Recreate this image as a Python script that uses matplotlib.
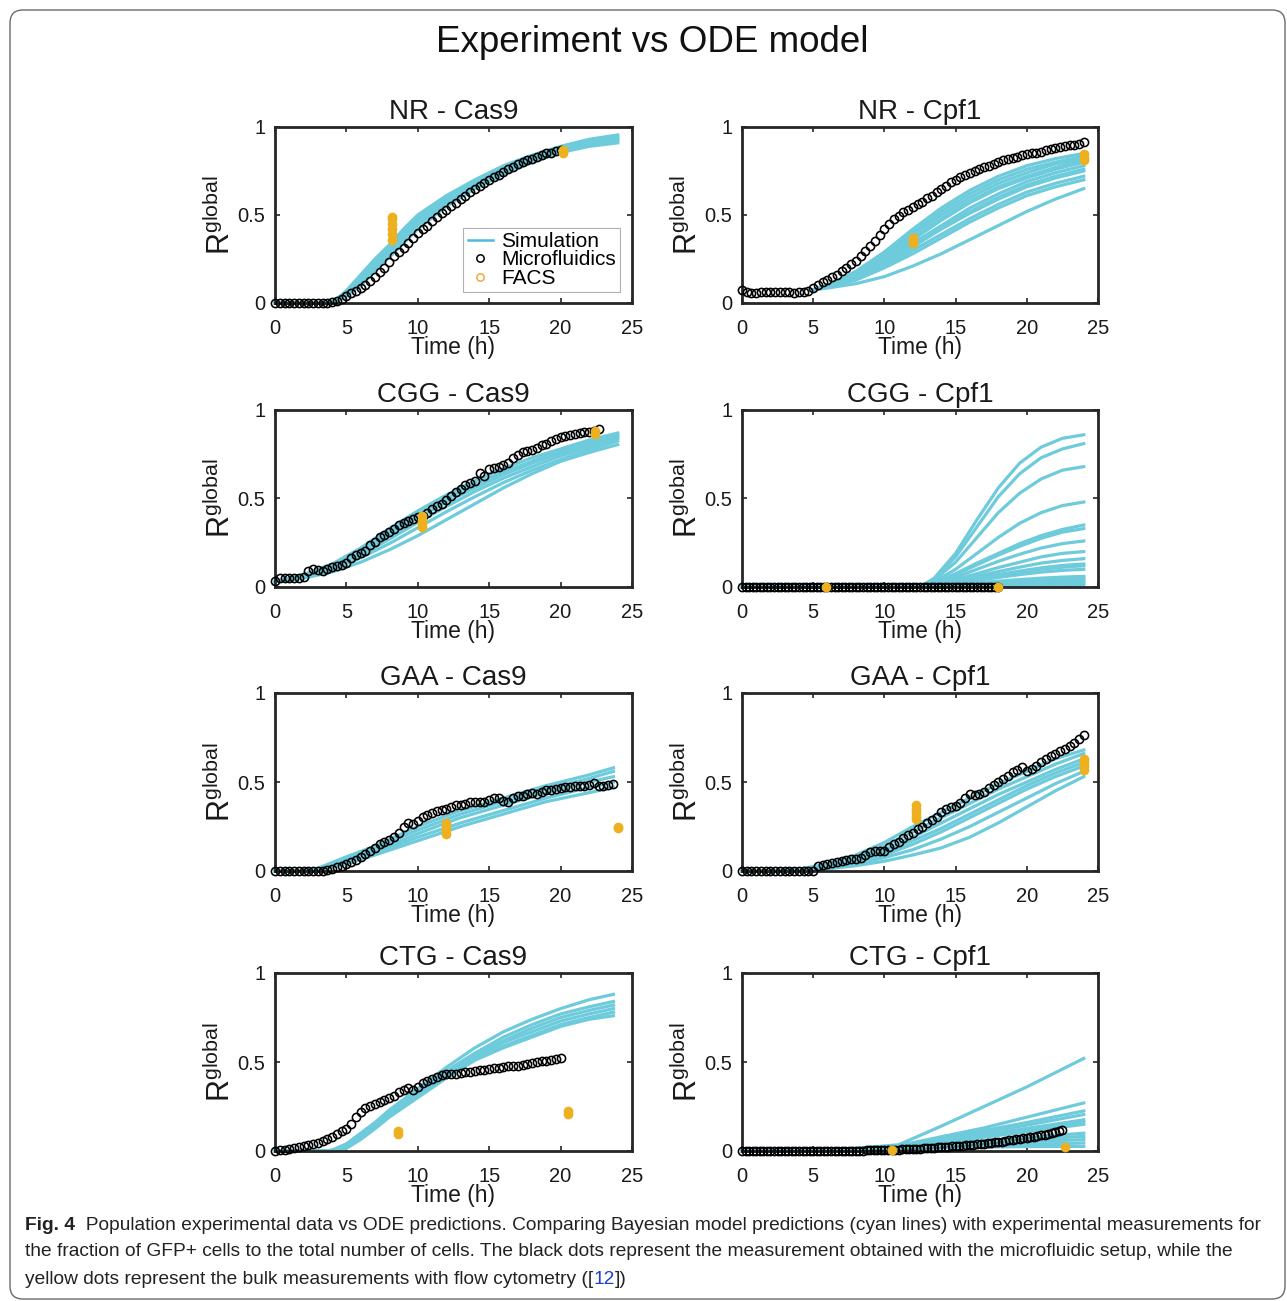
import numpy as np
import matplotlib
matplotlib.use("Agg")
import matplotlib.pyplot as plt
from matplotlib.lines import Line2D
from matplotlib.patches import FancyBboxPatch

plt.rcParams['font.family'] = ['Liberation Sans', 'DejaVu Sans']
plt.rcParams['mathtext.fontset'] = 'custom'
plt.rcParams['mathtext.rm'] = 'Liberation Sans'
plt.rcParams['mathtext.it'] = 'Liberation Sans'

CYAN = '#6ecbdc'
YELLOW = '#edb120'
AXCOL = '#262626'

# ---- NR - Cas9 ----
NR_CAS9_MF_DT = 1 / 3
NR_CAS9_MF = [0, 0, 0, 0, 0, 0, 0, 0, 0, 0, 0, 0.002, 0.005, 0.012, 0.025, 0.04, 0.055, 0.07,
              0.085, 0.10, 0.125, 0.15, 0.175, 0.20, 0.235, 0.265, 0.29, 0.315, 0.34, 0.37,
              0.395, 0.42, 0.44, 0.465, 0.49, 0.51, 0.53, 0.55, 0.57, 0.59, 0.61, 0.63, 0.65,
              0.665, 0.68, 0.70, 0.715, 0.73, 0.745, 0.76, 0.775, 0.79, 0.80, 0.81, 0.82,
              0.83, 0.84, 0.85, 0.855, 0.862, 0.87]
NR_CAS9_SIM_T = [0, 3.6, 4.2, 5, 6, 7, 8, 9, 10, 12, 14, 16, 18, 20, 22, 24]
NR_CAS9_SIM = [
    [0, 0, 0.015, 0.07, 0.16, 0.25, 0.33, 0.42, 0.50, 0.61, 0.70, 0.78, 0.84, 0.89, 0.93, 0.955],
    [0, 0, 0.012, 0.065, 0.15, 0.24, 0.32, 0.41, 0.49, 0.60, 0.69, 0.77, 0.83, 0.88, 0.92, 0.945],
    [0, 0, 0.01, 0.06, 0.14, 0.225, 0.31, 0.395, 0.475, 0.585, 0.68, 0.76, 0.82, 0.875, 0.91, 0.935],
    [0, 0, 0.008, 0.055, 0.13, 0.21, 0.295, 0.38, 0.46, 0.575, 0.67, 0.75, 0.815, 0.87, 0.905, 0.93],
    [0, 0, 0.005, 0.05, 0.12, 0.20, 0.28, 0.365, 0.445, 0.56, 0.66, 0.74, 0.81, 0.86, 0.90, 0.92],
    [0, 0, 0.002, 0.04, 0.10, 0.18, 0.26, 0.34, 0.42, 0.55, 0.65, 0.73, 0.80, 0.855, 0.89, 0.91],
]
NR_CAS9_FACS_T = [8.2, 20.2]
NR_CAS9_FACS = [[0.36, 0.39, 0.42, 0.45, 0.48, 0.49], [0.855, 0.865, 0.87]]

# ---- NR - Cpf1 ----
NR_CPF1_MF_DT = 1 / 3
NR_CPF1_MF = [0.075, 0.06, 0.055, 0.055, 0.06, 0.06, 0.065, 0.06, 0.065, 0.06, 0.065, 0.055,
              0.06, 0.065, 0.07, 0.085, 0.10, 0.12, 0.13, 0.145, 0.16, 0.18, 0.20, 0.22, 0.24,
              0.265, 0.295, 0.325, 0.355, 0.385, 0.42, 0.45, 0.475, 0.495, 0.515, 0.53, 0.545,
              0.56, 0.575, 0.595, 0.61, 0.63, 0.65, 0.665, 0.685, 0.70, 0.715, 0.73, 0.74, 0.75,
              0.76, 0.77, 0.78, 0.79, 0.80, 0.81, 0.82, 0.825, 0.83, 0.84, 0.845, 0.85, 0.855,
              0.86, 0.87, 0.875, 0.88, 0.885, 0.89, 0.895, 0.90, 0.905, 0.915]
NR_CPF1_SIM_T = [5, 6, 8, 10, 12, 14, 16, 18, 20, 22, 24]
NR_CPF1_SIM = [
    [0.075, 0.10, 0.18, 0.29, 0.42, 0.54, 0.64, 0.72, 0.78, 0.82, 0.85],
    [0.075, 0.10, 0.17, 0.28, 0.40, 0.52, 0.62, 0.70, 0.76, 0.80, 0.835],
    [0.075, 0.10, 0.17, 0.27, 0.39, 0.50, 0.60, 0.68, 0.74, 0.79, 0.82],
    [0.075, 0.095, 0.16, 0.26, 0.37, 0.48, 0.58, 0.66, 0.72, 0.77, 0.81],
    [0.075, 0.095, 0.16, 0.25, 0.36, 0.47, 0.57, 0.65, 0.71, 0.76, 0.80],
    [0.075, 0.095, 0.15, 0.24, 0.34, 0.44, 0.54, 0.62, 0.69, 0.74, 0.78],
    [0.075, 0.09, 0.145, 0.23, 0.33, 0.43, 0.52, 0.60, 0.67, 0.72, 0.76],
    [0.075, 0.09, 0.145, 0.22, 0.32, 0.42, 0.51, 0.59, 0.66, 0.71, 0.75],
    [0.075, 0.09, 0.14, 0.21, 0.30, 0.39, 0.48, 0.56, 0.63, 0.68, 0.72],
    [0.075, 0.09, 0.13, 0.20, 0.28, 0.37, 0.46, 0.54, 0.61, 0.66, 0.70],
    [0.075, 0.085, 0.11, 0.15, 0.21, 0.28, 0.36, 0.44, 0.52, 0.59, 0.65],
]
NR_CPF1_FACS_T = [12.0, 24.0]
NR_CPF1_FACS = [[0.34, 0.355, 0.37], [0.81, 0.825, 0.845]]

# ---- CGG - Cas9 ----
CGG_CAS9_MF_DT = 1 / 3
CGG_CAS9_MF = [0.035, 0.05, 0.05, 0.05, 0.05, 0.05, 0.055, 0.09, 0.10, 0.095, 0.09, 0.10,
               0.115, 0.12, 0.125, 0.135, 0.165, 0.18, 0.19, 0.205, 0.235, 0.255, 0.28, 0.295,
               0.31, 0.33, 0.35, 0.36, 0.375, 0.385, 0.395, 0.40, 0.42, 0.44, 0.455, 0.47, 0.49,
               0.515, 0.535, 0.555, 0.575, 0.59, 0.60, 0.645, 0.625, 0.665, 0.675, 0.68, 0.69,
               0.70, 0.73, 0.745, 0.76, 0.77, 0.775, 0.785, 0.80, 0.81, 0.825, 0.835, 0.845,
               0.855, 0.86, 0.865, 0.87, 0.875, 0.875, 0.88, 0.89]
CGG_CAS9_SIM_T = [0, 2, 4, 6, 8, 10, 12, 14, 16, 18, 20, 22, 24]
CGG_CAS9_SIM = [
    [0.03, 0.07, 0.13, 0.22, 0.33, 0.43, 0.52, 0.60, 0.67, 0.73, 0.78, 0.83, 0.87],
    [0.03, 0.065, 0.125, 0.21, 0.31, 0.41, 0.50, 0.58, 0.65, 0.71, 0.77, 0.815, 0.86],
    [0.03, 0.06, 0.115, 0.195, 0.29, 0.39, 0.48, 0.56, 0.635, 0.70, 0.755, 0.80, 0.85],
    [0.03, 0.06, 0.11, 0.18, 0.27, 0.365, 0.455, 0.54, 0.615, 0.68, 0.74, 0.79, 0.84],
    [0.03, 0.055, 0.10, 0.165, 0.245, 0.335, 0.425, 0.51, 0.59, 0.66, 0.72, 0.775, 0.825],
    [0.03, 0.05, 0.085, 0.14, 0.21, 0.29, 0.38, 0.47, 0.56, 0.64, 0.71, 0.76, 0.805],
]
CGG_CAS9_FACS_T = [10.3, 22.4]
CGG_CAS9_FACS = [[0.34, 0.36, 0.38, 0.40], [0.865, 0.88]]

# ---- CGG - Cpf1 ----
CGG_CPF1_MF_DT = 0.25
CGG_CPF1_MF = [0, 0, 0, 0, 0, 0, 0, 0, 0, 0, 0, 0, 0, 0, 0, 0, 0, 0, 0, 0, 0, 0, 0, 0,
               0, 0, 0, 0, 0, 0, 0, 0, 0, 0, 0, 0, 0, 0, 0, 0, 0, 0, 0, 0, 0, 0, 0, 0,
               0, 0, 0, 0, 0, 0, 0, 0, 0, 0, 0, 0, 0, 0, 0, 0, 0, 0, 0, 0, 0, 0, 0, 0, 0]
CGG_CPF1_SIM_T = [0, 12.5, 13.5, 15, 16.5, 18, 19.5, 21, 22.5, 24]
CGG_CPF1_SIM = [
    [0, 0, 0.05, 0.19, 0.38, 0.56, 0.70, 0.79, 0.84, 0.86],
    [0, 0, 0.045, 0.17, 0.34, 0.51, 0.64, 0.73, 0.78, 0.81],
    [0, 0, 0.04, 0.14, 0.28, 0.42, 0.53, 0.61, 0.66, 0.68],
    [0, 0, 0.03, 0.10, 0.19, 0.28, 0.36, 0.42, 0.46, 0.48],
    [0, 0, 0.025, 0.075, 0.135, 0.19, 0.245, 0.29, 0.325, 0.35],
    [0, 0, 0.022, 0.07, 0.125, 0.18, 0.23, 0.275, 0.31, 0.33],
    [0, 0, 0.018, 0.055, 0.10, 0.145, 0.185, 0.22, 0.245, 0.26],
    [0, 0, 0.014, 0.042, 0.075, 0.11, 0.14, 0.17, 0.19, 0.20],
    [0, 0, 0.011, 0.033, 0.06, 0.087, 0.112, 0.135, 0.15, 0.16],
    [0, 0, 0.009, 0.027, 0.049, 0.07, 0.09, 0.108, 0.122, 0.13],
    [0, 0, 0.008, 0.025, 0.045, 0.065, 0.083, 0.10, 0.112, 0.12],
    [0, 0, 0.007, 0.021, 0.037, 0.054, 0.07, 0.084, 0.094, 0.10],
    [0, 0, 0.004, 0.013, 0.023, 0.033, 0.042, 0.05, 0.056, 0.06],
    [0, 0, 0.0035, 0.011, 0.019, 0.027, 0.035, 0.042, 0.047, 0.05],
    [0, 0, 0.003, 0.009, 0.015, 0.022, 0.028, 0.034, 0.038, 0.04],
    [0, 0, 0.002, 0.007, 0.011, 0.016, 0.021, 0.025, 0.028, 0.03],
    [0, 0, 0.0015, 0.004, 0.008, 0.011, 0.014, 0.017, 0.019, 0.02],
    [0, 0, 0.001, 0.002, 0.004, 0.005, 0.007, 0.008, 0.009, 0.01],
]
CGG_CPF1_FACS_T = [5.9, 17.95]
CGG_CPF1_FACS = [[0.0], [0.0]]

# ---- GAA - Cas9 ----
GAA_CAS9_MF_DT = 1 / 3
GAA_CAS9_MF = [0, 0, 0, 0, 0, 0, 0, 0, 0, 0, 0, 0.005, 0.01, 0.02, 0.03, 0.04, 0.05, 0.06,
               0.08, 0.095, 0.11, 0.13, 0.15, 0.165, 0.175, 0.19, 0.215, 0.245, 0.27, 0.265,
               0.28, 0.305, 0.315, 0.325, 0.335, 0.345, 0.35, 0.36, 0.37, 0.37, 0.375, 0.385,
               0.39, 0.39, 0.385, 0.40, 0.41, 0.41, 0.395, 0.39, 0.41, 0.42, 0.42, 0.43, 0.44,
               0.435, 0.445, 0.455, 0.455, 0.46, 0.465, 0.47, 0.47, 0.475, 0.48, 0.48, 0.485,
               0.495, 0.48, 0.48, 0.485, 0.49]
GAA_CAS9_SIM_T = [0, 1.5, 3, 5, 7, 10, 13, 16, 19, 22, 23.7]
GAA_CAS9_SIM = [
    [0, 0, 0.015, 0.08, 0.14, 0.25, 0.34, 0.41, 0.48, 0.54, 0.58],
    [0, 0, 0.012, 0.07, 0.13, 0.23, 0.32, 0.39, 0.46, 0.52, 0.56],
    [0, 0, 0.01, 0.06, 0.11, 0.21, 0.30, 0.37, 0.44, 0.50, 0.53],
    [0, 0, 0.008, 0.05, 0.10, 0.19, 0.27, 0.34, 0.41, 0.47, 0.50],
    [0, 0, 0.005, 0.04, 0.09, 0.17, 0.25, 0.32, 0.39, 0.44, 0.47],
]
GAA_CAS9_FACS_T = [12.0, 24.0]
GAA_CAS9_FACS = [[0.21, 0.23, 0.25, 0.27], [0.24, 0.25]]

# ---- GAA - Cpf1 ----
GAA_CPF1_MF_DT = 1 / 3
GAA_CPF1_MF = [0, 0, 0, 0, 0, 0, 0, 0, 0, 0, 0, 0, 0, 0, 0, 0, 0.03, 0.035, 0.04, 0.045,
               0.05, 0.055, 0.06, 0.065, 0.07, 0.075, 0.09, 0.105, 0.11, 0.11, 0.115, 0.135,
               0.15, 0.165, 0.185, 0.205, 0.215, 0.235, 0.25, 0.27, 0.285, 0.305, 0.33, 0.35,
               0.36, 0.365, 0.38, 0.41, 0.43, 0.425, 0.43, 0.445, 0.465, 0.485, 0.50, 0.515,
               0.535, 0.555, 0.57, 0.585, 0.56, 0.575, 0.59, 0.61, 0.63, 0.645, 0.66, 0.675,
               0.685, 0.70, 0.72, 0.74, 0.765]
GAA_CPF1_SIM_T = [0, 2, 4, 6, 8, 10, 12, 14, 16, 18, 20, 22, 24]
GAA_CPF1_SIM = [
    [0, 0, 0.01, 0.04, 0.09, 0.16, 0.25, 0.33, 0.41, 0.49, 0.56, 0.63, 0.68],
    [0, 0, 0.01, 0.035, 0.08, 0.14, 0.22, 0.30, 0.38, 0.46, 0.53, 0.60, 0.66],
    [0, 0, 0.008, 0.03, 0.07, 0.12, 0.19, 0.27, 0.35, 0.43, 0.50, 0.57, 0.63],
    [0, 0, 0.006, 0.025, 0.06, 0.105, 0.17, 0.24, 0.32, 0.40, 0.48, 0.55, 0.61],
    [0, 0, 0.005, 0.02, 0.05, 0.09, 0.15, 0.22, 0.30, 0.38, 0.46, 0.53, 0.59],
    [0, 0, 0.004, 0.015, 0.04, 0.075, 0.12, 0.18, 0.25, 0.33, 0.41, 0.49, 0.56],
    [0, 0, 0.003, 0.012, 0.03, 0.055, 0.09, 0.13, 0.19, 0.27, 0.36, 0.45, 0.53],
]
GAA_CPF1_FACS_T = [12.2, 24.0]
GAA_CPF1_FACS = [[0.29, 0.31, 0.33, 0.35, 0.37], [0.57, 0.59, 0.61, 0.63]]

# ---- CTG - Cas9 ----
CTG_CAS9_MF_DT = 1 / 3
CTG_CAS9_MF = [0.0, 0.005, 0.008, 0.012, 0.016, 0.02, 0.026, 0.032, 0.04, 0.047, 0.055, 0.065,
               0.08, 0.095, 0.11, 0.125, 0.15, 0.19, 0.22, 0.24, 0.255, 0.265, 0.275, 0.285,
               0.295, 0.31, 0.33, 0.345, 0.355, 0.345, 0.36, 0.38, 0.395, 0.405, 0.415, 0.425,
               0.43, 0.43, 0.435, 0.44, 0.445, 0.445, 0.45, 0.455, 0.455, 0.46, 0.465, 0.465,
               0.47, 0.475, 0.48, 0.48, 0.485, 0.49, 0.495, 0.50, 0.505, 0.505, 0.51, 0.515, 0.52]
CTG_CAS9_SIM_T = [0, 3.5, 4, 5, 6, 7, 8, 10, 12, 14, 16, 18, 20, 22, 23.7]
CTG_CAS9_SIM = [
    [0, 0, 0.005, 0.04, 0.10, 0.16, 0.23, 0.35, 0.47, 0.58, 0.67, 0.74, 0.80, 0.85, 0.88],
    [0, 0, 0.004, 0.035, 0.09, 0.15, 0.22, 0.34, 0.45, 0.55, 0.64, 0.71, 0.77, 0.81, 0.84],
    [0, 0, 0.003, 0.03, 0.085, 0.145, 0.21, 0.33, 0.44, 0.54, 0.62, 0.69, 0.75, 0.79, 0.82],
    [0, 0, 0.002, 0.025, 0.08, 0.14, 0.205, 0.32, 0.43, 0.53, 0.61, 0.67, 0.73, 0.77, 0.80],
    [0, 0, 0.0, 0.02, 0.07, 0.13, 0.195, 0.31, 0.42, 0.52, 0.59, 0.65, 0.71, 0.75, 0.78],
    [0, 0, 0.0, 0.015, 0.065, 0.125, 0.19, 0.30, 0.41, 0.51, 0.58, 0.64, 0.70, 0.74, 0.76],
]
CTG_CAS9_FACS_T = [8.6, 20.5]
CTG_CAS9_FACS = [[0.095, 0.11], [0.21, 0.225]]

# ---- CTG - Cpf1 ----
CTG_CPF1_MF_DT = 0.25
CTG_CPF1_MF = [0, 0, 0, 0, 0, 0, 0, 0, 0, 0, 0, 0, 0, 0, 0, 0, 0, 0, 0, 0, 0, 0, 0, 0, 0, 0,
               0, 0, 0.001, 0.001, 0.001, 0.002, 0.002, 0.002, 0.002, 0.003, 0.003, 0.003,
               0.003, 0.004, 0.004, 0.005, 0.006, 0.007, 0.008, 0.009, 0.010, 0.011, 0.012,
               0.013, 0.014, 0.015, 0.016, 0.018, 0.019, 0.020, 0.021, 0.023, 0.024, 0.026,
               0.027, 0.029, 0.030, 0.032, 0.034, 0.036, 0.038, 0.040, 0.042, 0.044, 0.046,
               0.048, 0.050, 0.053, 0.056, 0.059, 0.062, 0.065, 0.068, 0.071, 0.074, 0.077,
               0.080, 0.084, 0.088, 0.092, 0.097, 0.102, 0.107, 0.113, 0.120]
CTG_CPF1_SIM_T = [0, 5, 8, 11, 14, 17, 20, 24]
CTG_CPF1_SIM = [
    [0, 0.005, 0.015, 0.035, 0.14, 0.25, 0.36, 0.52],
    [0, 0.005, 0.013, 0.03, 0.08, 0.13, 0.19, 0.27],
    [0, 0.005, 0.012, 0.028, 0.07, 0.115, 0.16, 0.225],
    [0, 0.004, 0.011, 0.026, 0.065, 0.105, 0.145, 0.205],
    [0, 0.004, 0.01, 0.024, 0.058, 0.092, 0.127, 0.175],
    [0, 0.004, 0.01, 0.023, 0.054, 0.085, 0.118, 0.163],
    [0, 0.003, 0.009, 0.022, 0.05, 0.078, 0.108, 0.15],
    [0, 0.003, 0.008, 0.02, 0.04, 0.058, 0.076, 0.10],
    [0, 0.003, 0.008, 0.018, 0.035, 0.05, 0.065, 0.082],
    [0, 0.002, 0.007, 0.016, 0.03, 0.042, 0.052, 0.064],
    [0, 0.002, 0.006, 0.014, 0.025, 0.032, 0.038, 0.045],
    [0, 0.002, 0.005, 0.012, 0.018, 0.022, 0.025, 0.026],
]
CTG_CPF1_FACS_T = [10.5, 22.7]
CTG_CPF1_FACS = [[0.005], [0.02]]

PANELS = [
    ("NR - Cas9", NR_CAS9_MF, NR_CAS9_MF_DT, NR_CAS9_SIM_T, NR_CAS9_SIM, NR_CAS9_FACS_T, NR_CAS9_FACS),
    ("NR - Cpf1", NR_CPF1_MF, NR_CPF1_MF_DT, NR_CPF1_SIM_T, NR_CPF1_SIM, NR_CPF1_FACS_T, NR_CPF1_FACS),
    ("CGG - Cas9", CGG_CAS9_MF, CGG_CAS9_MF_DT, CGG_CAS9_SIM_T, CGG_CAS9_SIM, CGG_CAS9_FACS_T, CGG_CAS9_FACS),
    ("CGG - Cpf1", CGG_CPF1_MF, CGG_CPF1_MF_DT, CGG_CPF1_SIM_T, CGG_CPF1_SIM, CGG_CPF1_FACS_T, CGG_CPF1_FACS),
    ("GAA - Cas9", GAA_CAS9_MF, GAA_CAS9_MF_DT, GAA_CAS9_SIM_T, GAA_CAS9_SIM, GAA_CAS9_FACS_T, GAA_CAS9_FACS),
    ("GAA - Cpf1", GAA_CPF1_MF, GAA_CPF1_MF_DT, GAA_CPF1_SIM_T, GAA_CPF1_SIM, GAA_CPF1_FACS_T, GAA_CPF1_FACS),
    ("CTG - Cas9", CTG_CAS9_MF, CTG_CAS9_MF_DT, CTG_CAS9_SIM_T, CTG_CAS9_SIM, CTG_CAS9_FACS_T, CTG_CAS9_FACS),
    ("CTG - Cpf1", CTG_CPF1_MF, CTG_CPF1_MF_DT, CTG_CPF1_SIM_T, CTG_CPF1_SIM, CTG_CPF1_FACS_T, CTG_CPF1_FACS),
]

W, H = 1287, 1301
fig = plt.figure(figsize=(W / 100, H / 100), dpi=100)

# axes boxes in pixels (left, right) / (top, bottom)
col_x = [(275, 632), (742, 1098)]
row_y = [(127, 303), (410, 587), (693, 871), (973, 1151)]


def draw_panel(ax, title, mf, dt, sim_t, sims, facs_t, facs):
    for s in sims:
        ax.plot(sim_t, s, color=CYAN, lw=2.3, zorder=2, clip_on=False)
    t = np.arange(len(mf)) * dt
    ax.plot(t, mf, 'o', mfc='none', mec='black', ms=5.9, mew=1.15, zorder=3, clip_on=False)
    for ft, fv in zip(facs_t, facs):
        ax.plot([ft] * len(fv), fv, 'o', color=YELLOW, ms=7, mew=0, zorder=4, clip_on=False)
    ax.set_xlim(0, 25)
    ax.set_ylim(0, 1)
    ax.set_xticks([0, 5, 10, 15, 20, 25])
    ax.set_yticks([0, 0.5, 1])
    ax.set_yticklabels(['0', '0.5', '1'])
    ax.tick_params(direction='in', length=3.5, width=1.2, colors=AXCOL, labelsize=14.5,
                   top=True, right=True, labelcolor='#1a1a1a')
    ax.tick_params(axis='x', pad=11.5)
    ax.tick_params(axis='y', pad=7)
    for sp in ax.spines.values():
        sp.set_linewidth(2.0)
        sp.set_color(AXCOL)
    ax.set_title(title, fontsize=20, pad=6, color='#1a1a1a')
    ax.set_xlabel('Time (h)', fontsize=16.5, labelpad=-1.5, color='#1a1a1a')
    ax.set_ylabel(r'$\mathrm{R}^{\mathrm{global}}$', fontsize=22, labelpad=0.5, color='#1a1a1a')


axes = []
for i, panel in enumerate(PANELS):
    r, c = divmod(i, 2)
    x0, x1 = col_x[c]
    y0, y1 = row_y[r]
    ax = fig.add_axes([x0 / W, 1 - y1 / H, (x1 - x0) / W, (y1 - y0) / H])
    draw_panel(ax, *panel)
    axes.append(ax)

# legend in the first panel
handles = [
    Line2D([], [], color='#4db8e2', lw=1.8),
    Line2D([], [], ls='none', marker='o', mfc='none', mec='black', ms=5.3, mew=1.1),
    Line2D([], [], ls='none', marker='o', mfc='none', mec='#f2a93b', ms=5.3, mew=1.1),
]
leg = axes[0].legend(handles, ['Simulation', 'Microfluidics', 'FACS'], loc='lower right',
                     bbox_to_anchor=(0.966, 0.0625), borderaxespad=0, fontsize=15,
                     handlelength=1.2, handletextpad=0.4, labelspacing=-0.03,
                     borderpad=0.2, frameon=True, fancybox=False, framealpha=1)
leg.get_frame().set_edgecolor('#b0b0b0')
leg.get_frame().set_linewidth(0.8)

fig.text(652 / W, 1 - 42 / H, 'Experiment vs ODE model', ha='center', va='center',
         fontsize=26.5, color='#111111')

# outer rounded frame
frame = FancyBboxPatch((10 / W, 1 - 1299 / H), 1275 / W, 1289 / H,
                       boxstyle='round,pad=0,rounding_size=0.01',
                       transform=fig.transFigure, fill=False, ec='#6a6a6a', lw=1.0)
fig.patches.append(frame)

# caption
cap_size = 13.8
renderer = fig.canvas.get_renderer()


def put_parts(y_px, parts):
    x = 25
    for txt, kw in parts:
        t = fig.text(x / W, 1 - y_px / H, txt, ha='left', va='center', fontsize=cap_size,
                     color=kw.get('color', '#222222'), weight=kw.get('weight', 'normal'))
        bb = t.get_window_extent(renderer)
        x = bb.x1


put_parts(1225, [('Fig. 4', {'weight': 'bold'}),
                 ('  Population experimental data vs ODE predictions. Comparing Bayesian model '
                  'predictions (cyan lines) with experimental measurements for', {})])
put_parts(1252, [('the fraction of GFP+ cells to the total number of cells. The black dots represent '
                  'the measurement obtained with the microfluidic setup, while the', {})])
put_parts(1279, [('yellow dots represent the bulk measurements with flow cytometry ([', {}),
                 ('12', {'color': '#1f3fd0'}),
                 ('])', {})])

fig.savefig('out.png', dpi=100)
